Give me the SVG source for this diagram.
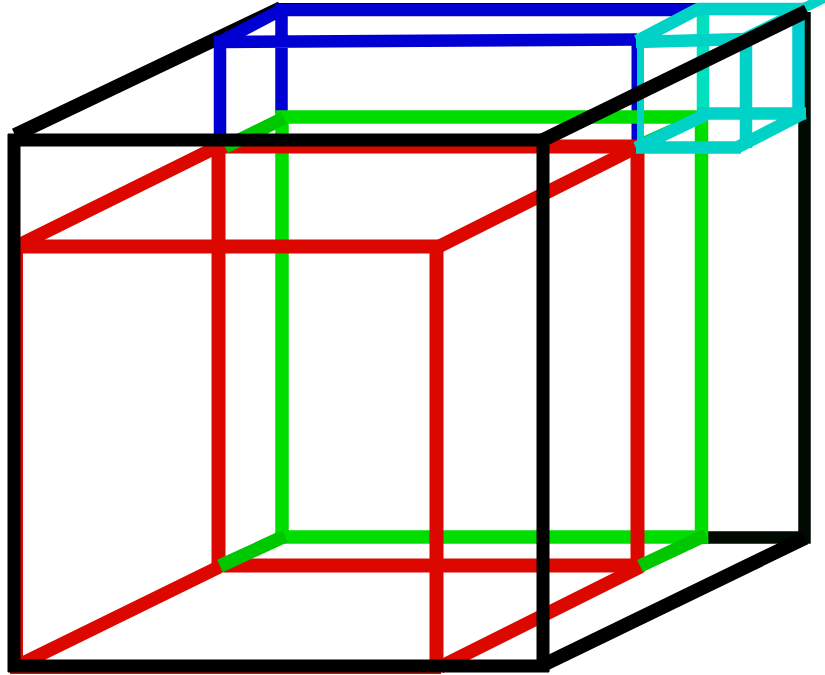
<svg xmlns="http://www.w3.org/2000/svg" width="825" height="675" viewBox="0 0 825 675">
<style>
path{fill:none;stroke-linecap:butt;stroke-linejoin:miter}
.k{stroke:#000;stroke-width:13}
.kb{stroke:#000a00;stroke-width:12.500}
.b{stroke:#0000d2;stroke-width:12.500}
.g{stroke:#00de00;stroke-width:13.500}
.gd{stroke:#00c800;stroke-width:13.500}
.r{stroke:#dc0800;stroke-width:14}
.c{stroke:#00d2c8;stroke-width:12.500}
</style>
<rect width="825" height="675" fill="#fff"/>
<g id="connectors">
<g id="black-back">
<path class="k" d="M15 135L281 8" style="stroke-width:14"/>
<path class="k" d="M275 6H697" style="stroke-width:6"/>
<path class="kb" d="M804.500 12V543.500M700 537.500H810.500"/>
<path class="k" d="M543 665L805 538" style="stroke-width:14"/>
</g>
<g id="blue-cube">
<path class="b" d="M220 136V42L637 39.500M281.500 113V10H697M220 42L281 10"/>
<path class="b" d="M634.500 38V146" style="stroke-width:6"/>
<path class="b" d="M636 39L697 7" style="stroke-width:3"/>
</g>
<g id="green-cube">
<path class="g" d="M282 537V117H701.500V537H282"/>
</g>
<g id="red-cube">
<path class="r" d="M19 246.500H436.500V666M218.500 146.500V565.500H637.500V146.500H218.500"/>
<path class="r" d="M21 244L219 146M438 247L637 147M15 667L219 567M440 667L640 567" style="stroke-width:13.500"/>
<path class="r" d="M18 246V667" style="stroke-width:10"/>
<path class="r" d="M10 667.500H441" style="stroke-width:13"/>
</g>
<g id="green-diagonals">
<path class="gd" d="M220 566L285 536M640 566L706 535"/>
<path class="gd" d="M225 147L284 118"/>
<path class="gd" d="M640 140L700 113" style="stroke-width:4"/>
</g>
<g id="cyan-cube">
<path class="c" d="M703 9V113" style="stroke:#00e0bc"/>
<path class="c" d="M746 38V148"/>
<path class="c" d="M798.500 9V113" style="stroke:#00cdd2"/>
<path class="c" d="M636 42L746 39"/>
<path class="c" d="M637 41L698 9H806" style="stroke-linejoin:bevel"/>
<path class="c" d="M740 40L830 -5" style="stroke-width:10"/>
<path class="c" d="M640.500 41V146" style="stroke-width:7"/>
<path class="c" d="M636 147.500H741M738 147L804 113M697 113.500H806M636 148L705 115"/>
</g>
<g id="black-front">
<path class="k" d="M14 134V672M8 666H549M543 134V672M8 140H549"/>
<path class="k" d="M543 140L807 11" style="stroke-width:14"/>
</g>
</g>
</svg>
